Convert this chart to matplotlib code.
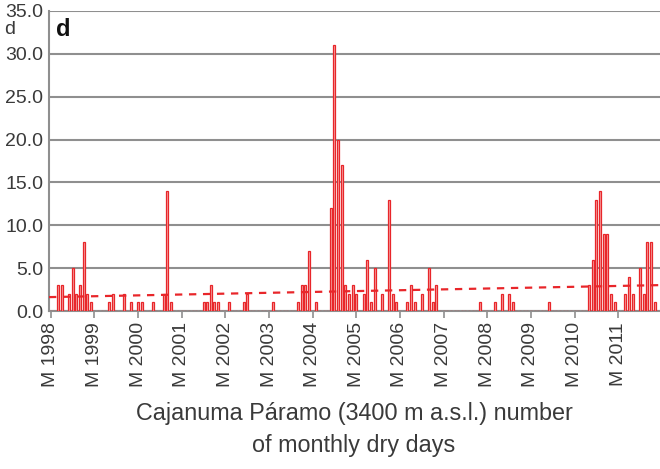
import matplotlib
matplotlib.use("Agg")
import matplotlib.pyplot as plt
import numpy as np

plt.rcParams['font.family'] = ['Liberation Sans', 'DejaVu Sans']

years = list(range(1998, 2012))
tick_labels = [f"M {y}" for y in years]

# monthly dry days, Jan..Dec per year
dry_1998 = [0, 0, 3, 3, 0, 2, 5, 2, 3, 8, 2, 1]
dry_1999 = [0, 0, 0, 0, 1, 2, 0, 0, 2, 0, 1, 0]
dry_2000 = [1, 1, 0, 0, 1, 0, 0, 2, 14, 1, 0, 0]
dry_2001 = [0, 0, 0, 0, 0, 0, 1, 1, 3, 1, 1, 0]
dry_2002 = [0, 1, 0, 0, 0, 1, 2, 0, 0, 0, 0, 0]
dry_2003 = [0, 1, 0, 0, 0, 0, 0, 0, 1, 3, 3, 7]
dry_2004 = [0, 1, 0, 0, 0, 12, 31, 20, 17, 3, 2, 3]
dry_2005 = [2, 0, 2, 6, 1, 5, 0, 2, 0, 13, 2, 1]
dry_2006 = [0, 0, 1, 3, 1, 0, 2, 0, 5, 1, 3, 0]
dry_2007 = [0, 0, 0, 0, 0, 0, 0, 0, 0, 0, 1, 0]
dry_2008 = [0, 0, 1, 0, 2, 0, 2, 1, 0, 0, 0, 0]
dry_2009 = [0, 0, 0, 0, 0, 1, 0, 0, 0, 0, 0, 0]
dry_2010 = [0, 0, 0, 0, 3, 6, 13, 14, 9, 9, 2, 1]
dry_2011 = [0, 0, 2, 4, 2, 0, 5, 2, 8, 8, 1, 0]

dry_days = (dry_1998 + dry_1999 + dry_2000 + dry_2001 + dry_2002 + dry_2003 +
            dry_2004 + dry_2005 + dry_2006 + dry_2007 + dry_2008 + dry_2009 +
            dry_2010 + dry_2011)

trend_start = 1.62
trend_end = 3.02

y_ticks = [0, 5, 10, 15, 20, 25, 30, 35]

n = len(dry_days)
x = np.arange(n)

fig = plt.figure(figsize=(6.6, 4.69), dpi=100)
ax = fig.add_axes([49/660, 1 - 311/469, 1 - 49/660, (311 - 11)/469])

grid_col = '#8f8f8f'
txt_col = '#3a3a3a'
red = '#e8262a'

ax.set_ylim(0, 35)
ax.set_xlim(-0.5, n - 0.5)
ax.set_yticks(y_ticks)
ax.set_yticklabels([f"{v:.1f}" for v in y_ticks])
ax.yaxis.grid(True, color=grid_col, linewidth=1.5)
ax.set_axisbelow(True)

ax.bar(x, dry_days, width=0.55, facecolor='#f6a5a5', edgecolor=red, linewidth=0.9, zorder=3)
ax.plot([-0.5, n - 0.5], [trend_start, trend_end], color=red, linewidth=1.6,
        dashes=(3.3, 3.0), zorder=4)

ax.set_xticks(np.arange(0, n, 12))
ax.set_xticklabels(tick_labels, rotation=90, ha='center', va='top')

for s in ['top', 'right']:
    ax.spines[s].set_visible(False)
for s in ['left', 'bottom']:
    ax.spines[s].set_color(grid_col)
    ax.spines[s].set_linewidth(1.5)

ax.tick_params(axis='y', length=0, pad=4, labelsize=14, labelcolor=txt_col)
ax.tick_params(axis='x', length=5, width=1.2, color=grid_col, pad=3,
               labelsize=14, labelcolor=txt_col)

fig.text(4/660, 1 - 29/469, "d", fontsize=14, color=txt_col, ha='left', va='center')
ax.text(0.012, 0.975, "d", transform=ax.transAxes, fontsize=17, fontweight='bold',
        color='#111111', ha='left', va='top')

fig.text(354/660, 1 - 413/469, "Cajanuma Páramo (3400 m a.s.l.) number",
         fontsize=16.8, color=txt_col, ha='center', va='center')
fig.text(354/660, 1 - 445/469, "of monthly dry days",
         fontsize=16.8, color=txt_col, ha='center', va='center')

fig.savefig("out.png", dpi=100)
